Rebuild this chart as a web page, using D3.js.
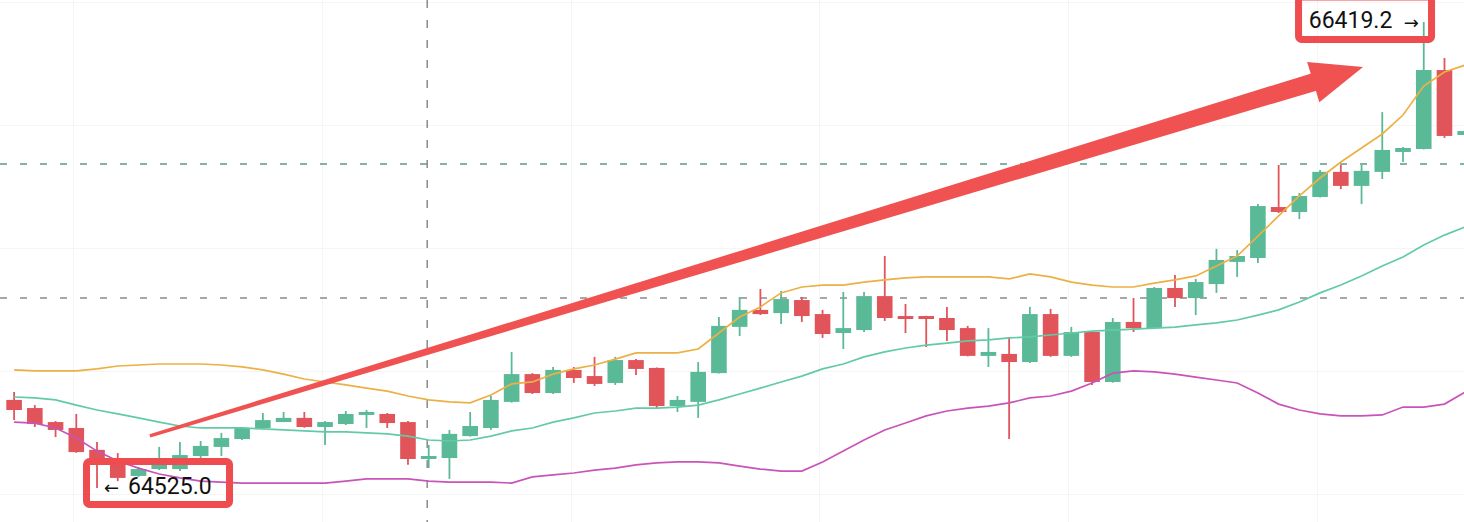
<!DOCTYPE html>
<html>
<head>
<meta charset="utf-8">
<script src="https://cdn.jsdelivr.net/npm/d3@7"></script>
<style>
  html, body { margin: 0; padding: 0; background: #fff; overflow: hidden; }
  svg { display: block; }
</style>
</head>
<body>
<svg id="chart"></svg>
<script>
// candle values, one entry per bar
const opens  = [64883,64850,64793,64769,64680,64619,64574,64602,64602,64655,64692,64724,64769,64793,64810,64773,64785,64822,64826,64793,
                64643,64647,64736,64769,64875,64988,64911,65005,64980,64952,65045,65013,64858,64875,64992,65180,65249,65236,65289,65232,
                65155,65167,65305,65224,65224,65216,65175,65062,65070,65037,65232,65062,65159,64956,65200,65175,65338,65297,65354,65444,
                65460,65667,65647,65708,65810,65753,65810,65891,65903,66224,65960];
const highs  = [64915,64862,64797,64826,64712,64667,64610,64692,64712,64716,64749,64773,64830,64834,64834,64797,64838,64842,64830,64797,
                64700,64761,64834,64899,65078,64992,65017,65017,65058,65058,65049,65015,64899,65037,65220,65301,65334,65326,65301,65249,
                65322,65322,65468,65273,65225,65261,65184,65175,65139,65261,65253,65180,65163,65216,65297,65342,65391,65375,65497,65492,
                65679,65838,65724,65818,65838,65838,66053,65911,66419.2,66273,65980];
const lows   = [64801,64773,64732,64668,64525.0,64553,64570,64598,64594,64647,64655,64720,64765,64793,64770,64700,64781,64769,64769,64619,
                64606,64562,64734,64761,64872,64907,64907,64952,64940,64944,64984,64850,64834,64810,64990,65143,65228,65192,65200,65135,
                65090,65159,65204,65155,65098,65123,65060,65017,64724,65033,65058,65058,64944,64953,65159,65173,65261,65228,65318,65383,
                65440,65643,65618,65706,65740,65679,65781,65850,65901,65948,65956];
const closes = [64842,64785,64761,64671,64627,64566,64602,64619,64659,64696,64728,64769,64801,64810,64773,64793,64826,64834,64789,64643,
                64655,64745,64777,64883,64988,64911,65005,64972,64948,65045,65009,64858,64883,64997,65184,65249,65232,65293,65224,65151,
                65175,65305,65216,65212,65212,65167,65062,65078,65037,65232,65062,65159,64956,65200,65175,65338,65297,65362,65452,65468,
                65671,65647,65712,65810,65753,65814,65899,65907,66224,65956,65976];

// bollinger bands
const upper  = [65005,65001,65001,65001,65009,65021,65025,65029,65029,65029,65025,65017,65005,64988,64968,64956,64944,64931,64919,64899,
                64883,64875,64871,64903,64948,64956,64988,65009,65025,65049,65074,65074,65074,65090,65155,65220,65261,65318,65342,65350,
                65350,65362,65371,65379,65383,65383,65383,65383,65375,65395,65383,65362,65350,65342,65342,65358,65371,65387,65427,65468,
                65549,65631,65712,65785,65850,65907,65964,66041,66159,66216,66244];
const middle = [64895,64891,64883,64862,64842,64826,64810,64793,64777,64769,64769,64769,64765,64761,64757,64753,64753,64749,64745,64736,
                64720,64716,64720,64736,64757,64769,64793,64810,64830,64838,64850,64850,64854,64862,64883,64907,64931,64956,64980,65009,
                65029,65058,65078,65094,65106,65114,65123,65127,65135,65139,65147,65155,65163,65167,65171,65175,65179,65188,65196,65208,
                65228,65249,65281,65318,65350,65387,65427,65464,65513,65553,65586];
const lower  = [64793,64789,64769,64728,64675,64635,64606,64582,64566,64553,64549,64545,64545,64545,64545,64545,64553,64562,64562,64562,
                64553,64549,64549,64549,64545,64570,64578,64586,64598,64606,64619,64627,64631,64631,64627,64614,64602,64594,64594,64631,
                64675,64720,64761,64789,64818,64838,64850,64858,64871,64891,64899,64919,64952,64992,65001,64997,64988,64976,64964,64952,
                64911,64866,64842,64826,64818,64818,64822,64854,64854,64866,64915];

const priceGrid = [64500, 65000, 65500, 66000, 66500];
const timeGrid = [2.85, 14.85, 26.85, 38.85, 50.85, 62.85];
const levelGreen = 65842;
const levelGray = 65297;
const markIndex = 20;
const lowMark = {i: 4, value: 64525.0};
const highMark = {i: 68, value: 66419.2};
const trend = [{i: 6.55, v: 64737}, {i: 65.07, v: 66236}];

let W = 1464, H = 522;
let svg = d3.select("#chart").attr("width", W).attr("height", H);

let bars = opens.map((o, i) => ({i: i, o: o, h: highs[i], l: lows[i], c: closes[i]}));

let x = d3.scaleLinear().domain([0, 70]).range([14.1, 14.1 + 70 * 20.73]);
let y = d3.scaleLinear().domain([64525, 66419.2]).range([488, 22]);

const green = "#5ab996", red = "#e0545a";

// faint grid
let grid = svg.append("g").attr("stroke", "#f5f5f5").attr("stroke-width", 1);
grid.selectAll(".hg").data(priceGrid).enter().append("line")
    .attr("x1", 0).attr("x2", W)
    .attr("y1", d => Math.round(y(d)) + 0.5).attr("y2", d => Math.round(y(d)) + 0.5);
grid.selectAll(".vg").data(timeGrid).enter().append("line")
    .attr("y1", 0).attr("y2", H)
    .attr("x1", d => Math.round(x(d)) + 0.5).attr("x2", d => Math.round(x(d)) + 0.5);

// dashed price levels and the time marker
svg.append("line")
    .attr("x1", 0).attr("x2", W).attr("y1", y(levelGreen)).attr("y2", y(levelGreen))
    .attr("stroke", "#5a9c86").attr("stroke-width", 1.5).attr("stroke-dasharray", "7,13");
svg.append("line")
    .attr("x1", 0).attr("x2", W).attr("y1", y(levelGray)).attr("y2", y(levelGray))
    .attr("stroke", "#8a8a8a").attr("stroke-width", 1.5).attr("stroke-dasharray", "7,13");
svg.append("line")
    .attr("x1", x(markIndex) - 1.5).attr("x2", x(markIndex) - 1.5).attr("y1", 0).attr("y2", H)
    .attr("stroke", "#8a8a8a").attr("stroke-width", 1.5).attr("stroke-dasharray", "8,12");

// candles
let candle = svg.append("g").selectAll("g").data(bars).enter().append("g")
    .attr("fill", d => d.c >= d.o ? green : red)
    .attr("stroke", d => d.c >= d.o ? green : red);

candle.append("line")
    .attr("x1", d => x(d.i)).attr("x2", d => x(d.i))
    .attr("y1", d => y(d.h)).attr("y2", d => y(d.l))
    .attr("stroke-width", 1.8);

candle.append("rect")
    .attr("stroke", "none")
    .attr("x", d => x(d.i) - 7.8)
    .attr("width", 15.6)
    .attr("y", d => y(Math.max(d.o, d.c)))
    .attr("height", d => Math.max(2, Math.abs(y(d.o) - y(d.c))));

// bands
let bandLine = arr => d3.line().x((d, i) => x(i)).y(d => y(d))(arr);
svg.append("path").attr("d", bandLine(upper)).attr("fill", "none").attr("stroke", "#ecb044").attr("stroke-width", 1.7);
svg.append("path").attr("d", bandLine(middle)).attr("fill", "none").attr("stroke", "#63caa7").attr("stroke-width", 1.7);
svg.append("path").attr("d", bandLine(lower)).attr("fill", "none").attr("stroke", "#c954b9").attr("stroke-width", 1.7);

// big trend arrow, tapered shaft + head
let p0 = [x(trend[0].i), y(trend[0].v)], p1 = [x(trend[1].i), y(trend[1].v)];
let dx = p1[0] - p0[0], dy = p1[1] - p0[1], len = Math.hypot(dx, dy);
let ux = dx / len, uy = dy / len, nx = -uy, ny = ux;
let headLen = 52, headHalf = 21;
let b = [p1[0] - ux * headLen, p1[1] - uy * headLen];
let w0 = 1.6, w1 = 9;
let bb = [b[0] + ux * 4, b[1] + uy * 4];
let shaft = [
    [p0[0] + nx * w0, p0[1] + ny * w0], [bb[0] + nx * w1, bb[1] + ny * w1],
    [bb[0] - nx * w1, bb[1] - ny * w1], [p0[0] - nx * w0, p0[1] - ny * w0]
];
let head = [p1, [b[0] + nx * headHalf, b[1] + ny * headHalf], [b[0] - nx * headHalf, b[1] - ny * headHalf]];
svg.append("polygon").attr("points", shaft.map(p => p.join(",")).join(" ")).attr("fill", "#f05252");
svg.append("polygon").attr("points", head.map(p => p.join(",")).join(" ")).attr("fill", "#f05252");

// price callouts
const boxRed = "#ee4c4f";
let lx = x(lowMark.i), ly = y(lowMark.value);
svg.append("rect").attr("x", lx - 10.5).attr("y", ly - 26.5).attr("width", 143).attr("height", 43)
    .attr("rx", 3).attr("fill", "none").attr("stroke", boxRed).attr("stroke-width", 7);
svg.append("text").attr("x", lx + 7).attr("y", ly + 6)
    .attr("font-family", "'DejaVu Sans', sans-serif").attr("font-size", 18).attr("fill", "#111")
    .text("\u2190");
svg.append("text").attr("x", lx + 31).attr("y", ly + 6)
    .attr("font-family", "Roboto, sans-serif").attr("font-size", 23).attr("fill", "#111")
    .text(lowMark.value.toFixed(1));

let hx = x(highMark.i), hy = y(highMark.value);
svg.append("rect").attr("x", hx - 125.2).attr("y", hy - 25).attr("width", 133).attr("height", 42.5)
    .attr("rx", 3).attr("fill", "none").attr("stroke", boxRed).attr("stroke-width", 7);
svg.append("text").attr("x", hx - 115).attr("y", hy + 6)
    .attr("font-family", "Roboto, sans-serif").attr("font-size", 23).attr("fill", "#111")
    .text(highMark.value.toFixed(1));
svg.append("text").attr("x", hx - 20).attr("y", hy + 7)
    .attr("font-family", "'DejaVu Sans', sans-serif").attr("font-size", 18).attr("fill", "#111")
    .text("\u2192");
</script>
</body>
</html>
